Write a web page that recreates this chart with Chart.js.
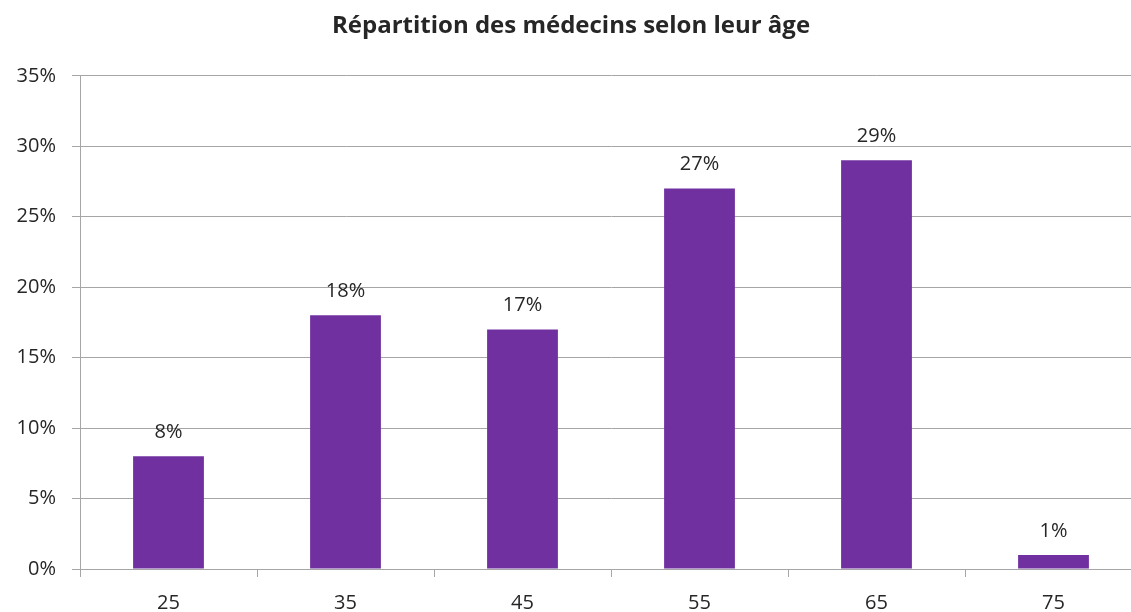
<!DOCTYPE html>
<html>
<head>
<meta charset="utf-8">
<script src="https://cdn.jsdelivr.net/npm/chart.js"></script>
<style>
  html, body { margin: 0; padding: 0; background: #fff; overflow: hidden; }
  #wrap { width: 1145px; height: 612px; }
</style>
</head>
<body>
<div id="wrap"><canvas id="bar-chart"></canvas></div>
<script>
// data
const ages = ['25', '35', '45', '55', '65', '75'];
const shares = [8, 18, 17, 27, 29, 1];
const yTicks = ['0%', '5%', '10%', '15%', '20%', '25%', '30%', '35%'];

const purple = '#7030A0';
const gridGrey = '#a6a6a6';
const textCol = '#262626';
const font = '"Open Sans", "DejaVu Sans", sans-serif';

// value labels above each bar
const barLabels = {
    id: 'barLabels',
    afterDatasetsDraw(chart) {
        const c = chart.ctx;
        const meta = chart.getDatasetMeta(0);
        c.save();
        c.font = '20px ' + font;
        c.fillStyle = textCol;
        c.textAlign = 'center';
        c.textBaseline = 'bottom';
        meta.data.forEach((bar, i) => {
            c.fillText(shares[i] + '%', bar.x, bar.y - 14);
        });
        c.restore();
    }
};

const ctx = document.getElementById('bar-chart');

new Chart(ctx, {
    type: 'bar',
    data: {
        labels: ages,
        datasets: [{
            data: shares,
            backgroundColor: purple,
            barPercentage: 0.4,
            categoryPercentage: 1
        }]
    },
    options: {
        responsive: true,
        maintainAspectRatio: false,
        animation: false,
        layout: { padding: { left: 0, right: 3, top: 0, bottom: 0 } },
        plugins: {
            legend: { display: false },
            tooltip: { enabled: false },
            title: {
                display: true,
                text: 'Répartition des médecins selon leur âge',
                color: textCol,
                font: { family: font, size: 24, weight: 'bold' },
                padding: { top: 12, bottom: 35 }
            }
        },
        scales: {
            x: {
                grid: {
                    drawOnChartArea: false,
                    drawTicks: true,
                    tickLength: 8,
                    color: gridGrey
                },
                border: { color: gridGrey },
                ticks: {
                    color: textCol,
                    font: { family: font, size: 20 },
                    padding: 14
                },
                afterFit(scale) { scale.height = 43; }
            },
            y: {
                min: 0,
                max: 35,
                ticks: {
                    stepSize: 5,
                    color: textCol,
                    font: { family: font, size: 20 },
                    padding: 16,
                    callback: (v) => yTicks[Math.round(v / 5)]
                },
                grid: { color: gridGrey, tickLength: 8 },
                border: { color: gridGrey },
                afterFit(scale) { scale.width = 80; }
            }
        }
    },
    plugins: [barLabels]
});
</script>
</body>
</html>
